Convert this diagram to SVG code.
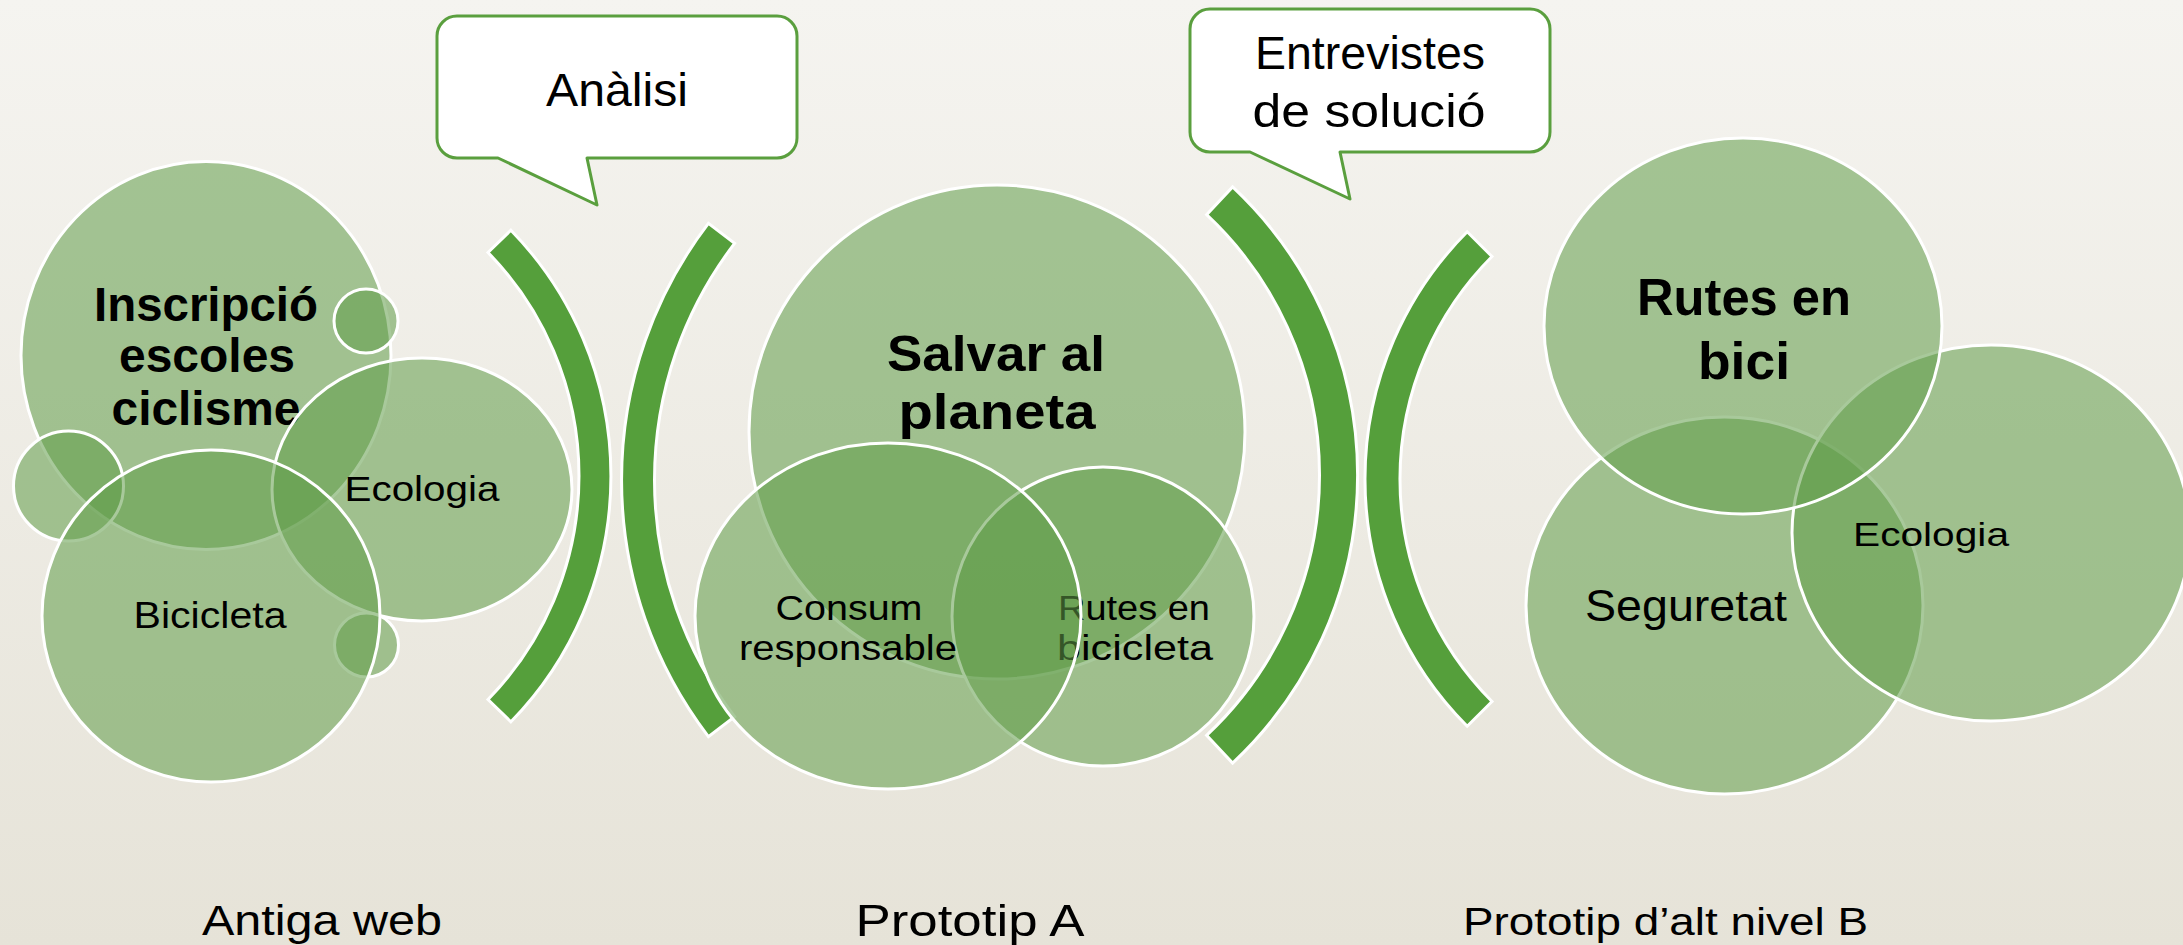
<svg xmlns="http://www.w3.org/2000/svg" width="2183" height="945" viewBox="0 0 2183 945">
<defs>
<linearGradient id="bg" x1="0" y1="0" x2="0" y2="1">
<stop offset="0" stop-color="#f5f4f0"/>
<stop offset="1" stop-color="#e6e3d8"/>
</linearGradient>
<style>
.c{fill:#609c48;fill-opacity:.55;stroke:#ffffff;stroke-width:3}
.br{fill:#559f3b;stroke:#ffffff;stroke-width:3}
.bub{fill:#ffffff;stroke:#5a9f3e;stroke-width:3;stroke-linejoin:round}
text{font-family:"Liberation Sans",Arial,sans-serif;fill:#000000;text-anchor:middle}
.b{font-weight:bold}
</style>
</defs>
<rect x="0" y="0" width="2183" height="945" fill="url(#bg)"/>

<g id="connectors">
<path class="br" d="M510.9 230.2 A352 352 0 0 1 510.9 721.8 L488 699.5 A320 320 0 0 0 488 252.5 Z"/>
<path class="br" d="M708.4 223.4 A422.5 422.5 0 0 0 708.4 736.6 L734.6 716.6 A389.5 389.5 0 0 1 734.6 243.4 Z"/>
<path class="br" d="M1232.6 186.9 A394.5 394.5 0 0 1 1232.6 763.1 L1206.6 735.3 A356.5 356.5 0 0 0 1206.6 214.7 Z"/>
<path class="br" d="M1467.2 231.8 A350 350 0 0 0 1467.2 726.2 L1492 701.5 A315 315 0 0 1 1492 256.5 Z"/>
</g>

<g id="bubble-analisi">
<path class="bub" d="M457 16 H777 A20 20 0 0 1 797 36 V138 A20 20 0 0 1 777 158 H587 L597 205 L498 158 H457 A20 20 0 0 1 437 138 V36 A20 20 0 0 1 457 16 Z"/>
<text x="617" y="106" font-size="47" textLength="142" lengthAdjust="spacingAndGlyphs">Anàlisi</text>
</g>
<g id="bubble-entrevistes">
<path class="bub" d="M1210 9 H1530 A20 20 0 0 1 1550 29 V132 A20 20 0 0 1 1530 152 H1340 L1350 199 L1250 152 H1210 A20 20 0 0 1 1190 132 V29 A20 20 0 0 1 1210 9 Z"/>
<text x="1370" y="69" font-size="47" textLength="230" lengthAdjust="spacingAndGlyphs">Entrevistes</text>
<text x="1369" y="127" font-size="47" textLength="233" lengthAdjust="spacingAndGlyphs">de solució</text>
</g>

<g id="left-inscripcio">
<ellipse class="c" cx="206" cy="355.5" rx="185" ry="194"/>
<text class="b" x="206" y="321" font-size="48" textLength="224" lengthAdjust="spacingAndGlyphs">Inscripció</text>
<text class="b" x="207" y="372" font-size="48" textLength="176" lengthAdjust="spacingAndGlyphs">escoles</text>
<text class="b" x="206" y="425" font-size="48" textLength="189" lengthAdjust="spacingAndGlyphs">ciclisme</text>
</g>
<g id="left-dot-top"><circle class="c" cx="366" cy="321" r="32"/></g>
<g id="left-ecologia">
<ellipse class="c" cx="422" cy="489.5" rx="150" ry="131.5"/>
<text x="422" y="501" font-size="35" textLength="155" lengthAdjust="spacingAndGlyphs">Ecologia</text>
</g>
<g id="left-dot-left"><circle class="c" cx="68.5" cy="486" r="55"/></g>
<g id="left-dot-bottom"><circle class="c" cx="366.5" cy="645" r="32"/></g>
<g id="left-bicicleta">
<ellipse class="c" cx="211" cy="616" rx="169" ry="166"/>
<text x="210" y="628" font-size="37" textLength="153" lengthAdjust="spacingAndGlyphs">Bicicleta</text>
</g>

<g id="mid-salvar">
<ellipse class="c" cx="997" cy="432" rx="248" ry="247"/>
<text class="b" x="996" y="371" font-size="50" textLength="218" lengthAdjust="spacingAndGlyphs">Salvar al</text>
<text class="b" x="997" y="429" font-size="50" textLength="197" lengthAdjust="spacingAndGlyphs">planeta</text>
</g>
<g id="mid-rutes">
<ellipse class="c" cx="1103" cy="616.5" rx="151" ry="149.5"/>
<text x="1134" y="620" font-size="35" textLength="152" lengthAdjust="spacingAndGlyphs">Rutes en</text>
<text x="1135" y="660" font-size="35" textLength="156" lengthAdjust="spacingAndGlyphs">bicicleta</text>
</g>
<g id="mid-consum">
<ellipse class="c" cx="888" cy="616" rx="193" ry="173"/>
<text x="849" y="620" font-size="35" textLength="147" lengthAdjust="spacingAndGlyphs">Consum</text>
<text x="848" y="660" font-size="35" textLength="218" lengthAdjust="spacingAndGlyphs">responsable</text>
</g>

<g id="right-seguretat">
<ellipse class="c" cx="1724.5" cy="605.5" rx="198.5" ry="188.5"/>
<text x="1686" y="621" font-size="45" textLength="202" lengthAdjust="spacingAndGlyphs">Seguretat</text>
</g>
<g id="right-ecologia">
<ellipse class="c" cx="1991" cy="533" rx="199" ry="188"/>
<text x="1931" y="546" font-size="34" textLength="156" lengthAdjust="spacingAndGlyphs">Ecologia</text>
</g>
<g id="right-rutes">
<ellipse class="c" cx="1743" cy="326" rx="199" ry="188"/>
<text class="b" x="1744" y="315" font-size="52" textLength="214" lengthAdjust="spacingAndGlyphs">Rutes en</text>
<text class="b" x="1744" y="379" font-size="52" textLength="92" lengthAdjust="spacingAndGlyphs">bici</text>
</g>

<g id="label-antiga">
<text x="322" y="935" font-size="42" textLength="240" lengthAdjust="spacingAndGlyphs">Antiga web</text>
</g>
<g id="label-prototip-a">
<text x="970" y="936" font-size="44" textLength="229" lengthAdjust="spacingAndGlyphs">Prototip A</text>
</g>
<g id="label-prototip-b">
<text x="1665.5" y="935" font-size="38" textLength="405" lengthAdjust="spacingAndGlyphs">Prototip d’alt nivel B</text>
</g>
</svg>
